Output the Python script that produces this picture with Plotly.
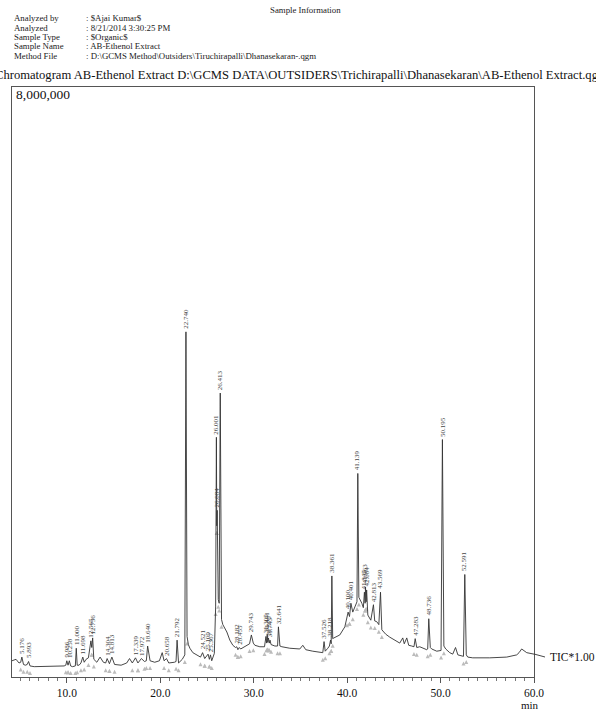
import plotly.graph_objects as go

# ---- data (time in min, intensity in millions of counts) ----
base_time = [4.12, 4.55, 4.87, 5.05, 5.35, 5.55, 5.75, 6.05, 6.5, 7.1, 8.2, 9.3, 9.7, 9.88, 10.12, 10.4, 10.6,
             10.9, 11.1, 11.3, 11.5, 11.85, 12.05, 12.3, 12.66, 12.88, 13.2, 13.55, 13.9, 14.15, 14.55, 15.1,
             15.8, 16.4, 16.7, 17.0, 17.6, 18.3, 18.5, 18.9, 19.4, 19.9, 20.2, 20.4, 20.9, 21.5, 21.68, 21.95,
             22.35, 22.62, 22.86, 23.0, 23.16, 23.48, 24.0, 24.3, 24.75, 25.25, 25.5, 25.78, 25.92, 26.04,
             26.2, 26.3, 26.55, 26.69, 27.12, 27.44, 27.76, 28.05, 28.3, 28.6, 29.05, 29.37, 29.55, 29.95,
             30.12, 30.65, 31.15, 31.38, 31.5, 31.66, 31.85, 32.26, 32.55, 32.8, 33.01, 33.86, 34.93, 35.25,
             35.57, 36.32, 37.39, 37.65, 37.93, 38.1, 38.29, 38.45, 38.58, 39.21, 39.75, 39.98, 40.25, 40.6,
             40.92, 41.05, 41.25, 41.57, 41.73, 41.92, 42.03, 42.21, 42.53, 42.95, 43.17, 43.39, 43.71, 44.13,
             44.56, 45.1, 45.63, 45.95, 46.11, 46.38, 46.59, 46.91, 47.15, 47.45, 47.77, 48.52, 48.62, 48.9,
             49.05, 49.59, 50.05, 50.35, 50.55, 50.98, 51.3, 51.6, 51.85, 52.05, 52.45, 52.75, 52.91, 53.44,
             55.26, 57.08, 58.15, 58.4, 58.68, 59.22, 60.0]
base_int = [0.22, 0.24, 0.19, 0.20, 0.17, 0.16, 0.17, 0.15, 0.14, 0.14, 0.14, 0.14, 0.15, 0.16, 0.16, 0.15, 0.14,
            0.15, 0.16, 0.16, 0.19, 0.20, 0.24, 0.26, 0.40, 0.24, 0.20, 0.27, 0.20, 0.19, 0.18, 0.17,
            0.16, 0.19, 0.25, 0.19, 0.19, 0.21, 0.22, 0.22, 0.20, 0.22, 0.33, 0.22, 0.19, 0.20, 0.21, 0.19,
            0.24, 0.30, 0.55, 0.44, 0.39, 0.33, 0.29, 0.27, 0.25, 0.24, 0.22, 0.32, 0.95, 2.05,
            1.05, 1.00, 0.78, 0.71, 0.61, 0.50, 0.43, 0.40, 0.37, 0.38, 0.41, 0.43, 0.45, 0.46,
            0.43, 0.41, 0.41, 0.46, 0.47, 0.46, 0.44, 0.42, 0.42, 0.42, 0.41, 0.39, 0.38, 0.43,
            0.37, 0.35, 0.33, 0.35, 0.39, 0.42, 0.45, 0.52, 0.53, 0.57, 0.68, 0.80, 0.82, 0.88,
            0.98, 1.02, 1.08, 1.00, 0.94, 1.00, 1.02, 0.84, 0.77, 0.76, 0.75, 0.71, 0.64, 0.58,
            0.54, 0.50, 0.46, 0.53, 0.45, 0.53, 0.43, 0.42, 0.41, 0.40, 0.41, 0.37, 0.38, 0.40,
            0.38, 0.35, 0.36, 0.42, 0.38, 0.33, 0.31, 0.40, 0.30, 0.29, 0.28, 0.30, 0.27, 0.26,
            0.26, 0.27, 0.30, 0.33, 0.38, 0.33, 0.31]

peak_rt = [5.176, 5.893, 9.986, 10.258, 11.000, 11.698, 12.565, 12.756, 14.304, 14.813, 17.339, 17.972,
           18.640, 20.658, 21.792, 22.740, 24.521, 25.109, 25.367, 26.001, 26.084, 26.413, 28.182, 28.455,
           29.743, 31.305, 31.441, 31.575, 31.743, 32.641, 37.526, 38.218, 38.361, 40.100, 40.401, 41.139,
           41.847, 41.963, 42.084, 42.813, 43.569, 47.283, 48.736, 50.195, 52.591]
peak_int = [0.27, 0.21, 0.22, 0.22, 0.39, 0.27, 0.49, 0.53, 0.25, 0.27, 0.26, 0.25,
            0.42, 0.25, 0.50, 4.68, 0.33, 0.31, 0.30, 3.25, 2.26, 3.85, 0.41, 0.40,
            0.57, 0.55, 0.58, 0.53, 0.50, 0.68, 0.48, 0.50, 1.37, 0.88, 1.00, 2.76,
            1.15, 1.22, 1.18, 0.98, 1.15, 0.52, 0.79, 3.22, 1.39]

x_ticks = [10, 20, 30, 40, 50, 60]
x_tick_text = ["10.0", "20.0", "30.0", "40.0", "50.0", "60.0"]

header_labels = ["Analyzed by", "Analyzed", "Sample Type", "Sample Name", "Method File"]
header_values = [": $Ajai Kumar$", ": 8/21/2014 3:30:25 PM", ": $Organic$", ": AB-Ethenol Extract",
                 ": D:\\GCMS Method\\Outsiders\\Tiruchirapalli\\Dhanasekaran-.qgm"]
title_text = ("Chromatogram AB-Ethenol Extract D:\\GCMS DATA\\OUTSIDERS\\Trichirapalli\\"
              "Dhanasekaran\\AB-Ethenol Extract.qgd")

# merge the read baseline points with the read peak apexes, ordered by time
pts = sorted(list(zip(base_time, base_int)) + list(zip(peak_rt, peak_int)))
tr_t = [p[0] for p in pts]
tr_i = [p[1] for p in pts]

# peak start / end markers: the trace points on either side of each apex
mk_t, mk_i = [], []
for rt in peak_rt:
    k = tr_t.index(rt)
    for j in (k - 1, k + 1):
        mk_t.append(tr_t[j])
        mk_i.append(tr_i[j] - 0.07)

W, H = 596, 710
L, R, T, B = 12, 534, 87, 677

SERIF = "Liberation Serif, Times New Roman, serif"


def px(xp):
    return (xp - L) / (R - L)


def py(yp):
    return (B - yp) / (B - T)


fig = go.Figure()
fig.add_trace(go.Scatter(x=mk_t, y=mk_i, mode="markers",
                         marker=dict(symbol="arrow-up", size=4, color="#bbbbbb",
                                     line=dict(width=0)), hoverinfo="skip"))
fig.add_trace(go.Scatter(x=tr_t, y=tr_i, mode="lines",
                         line=dict(color="#333333", width=0.9), hoverinfo="skip"))

ann = []
for rt, it in zip(peak_rt, peak_int):
    ann.append(dict(x=rt, y=it, xref="x", yref="y", text=f"{rt:.3f}", textangle=-90,
                    showarrow=False, xanchor="center", yanchor="bottom", yshift=1,
                    font=dict(family=SERIF, size=7, color="#444444")))

txt = dict(family=SERIF, size=8.8, color="#222")
ann.append(dict(x=px(305), y=py(10), xref="paper", yref="paper", text="Sample Information",
                showarrow=False, xanchor="center", yanchor="middle", font=txt))
header_y = [18, 27.5, 37, 46.5, 56]
for lab, val, yy in zip(header_labels, header_values, header_y):
    ann.append(dict(x=px(12), y=py(yy), xref="paper", yref="paper", text=lab, showarrow=False,
                    xanchor="left", yanchor="middle", font=txt))
    ann.append(dict(x=px(84), y=py(yy), xref="paper", yref="paper", text=val, showarrow=False,
                    xanchor="left", yanchor="middle", font=txt))

ann.append(dict(x=px(300), y=py(75), xref="paper", yref="paper", text=title_text, showarrow=False,
                xanchor="center", yanchor="middle", font=dict(family=SERIF, size=12.6, color="#111")))
ann.append(dict(x=px(14), y=py(94), xref="paper", yref="paper", text="8,000,000", showarrow=False,
                xanchor="left", yanchor="middle", font=dict(family=SERIF, size=13.5, color="#111")))
ann.append(dict(x=px(548), y=py(657), xref="paper", yref="paper", text="TIC*1.00", showarrow=False,
                xanchor="left", yanchor="middle", font=dict(family=SERIF, size=11.5, color="#111")))
ann.append(dict(x=px(530), y=py(705), xref="paper", yref="paper", text="min", showarrow=False,
                xanchor="center", yanchor="middle", font=dict(family=SERIF, size=11, color="#111")))

shapes = [dict(type="line", xref="paper", yref="paper", x0=px(534), y0=py(654), x1=px(545), y1=py(657),
               line=dict(color="#333333", width=0.9))]

fig.update_layout(
    width=W, height=H,
    margin=dict(l=L, r=W - R, t=T, b=H - B, pad=0),
    paper_bgcolor="white", plot_bgcolor="white",
    showlegend=False,
    annotations=ann, shapes=shapes,
    xaxis=dict(range=[4.12, 60], tickvals=x_ticks, ticktext=x_tick_text, ticks="outside", ticklen=5,
               tickcolor="#555", showgrid=False, zeroline=False, showline=True, linecolor="#555",
               linewidth=1, mirror=True,
               tickfont=dict(family=SERIF, size=11.5, color="#111"),
               minor=dict(dtick=1, tick0=0, ticks="outside", ticklen=3, tickcolor="#777", showgrid=False)),
    yaxis=dict(range=[0, 8], showticklabels=False, ticks="", showgrid=False, zeroline=False,
               showline=True, linecolor="#555", linewidth=1, mirror=True),
)

fig.write_html("out.html", config={"displayModeBar": False},
               post_script="document.body.style.margin='0';")
